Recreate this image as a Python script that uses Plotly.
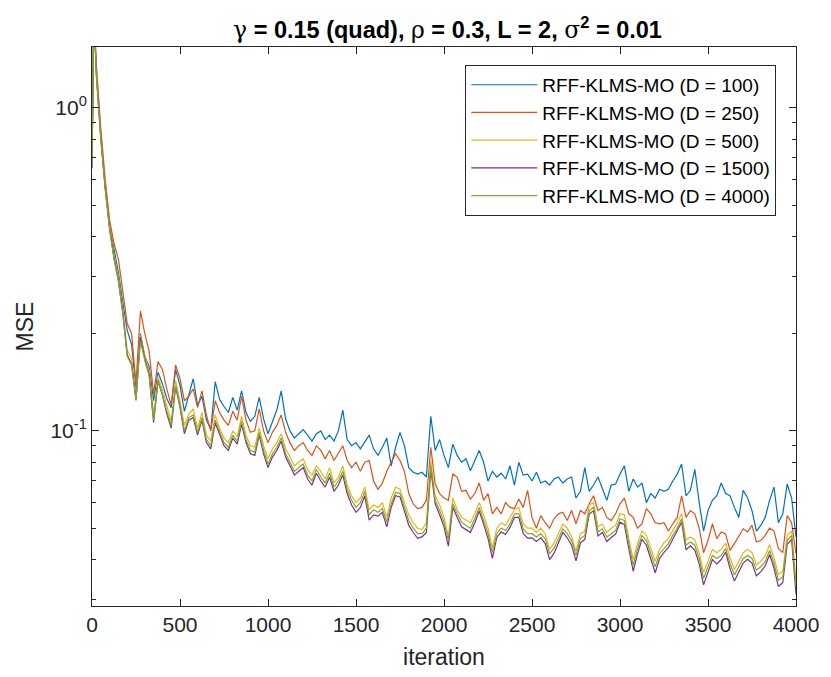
import plotly.graph_objects as go

iters = [0, 5, 10, 15] + list(range(25, 4001, 25))

mse_d100 = [0.66, 1.85, 2.0, 1.75,
    1.3, 0.83, 0.57, 0.43, 0.36, 0.31, 0.25, 0.205, 0.185, 0.135,
    0.2, 0.17, 0.158, 0.124, 0.152, 0.14, 0.126, 0.118, 0.155, 0.138,
    0.115, 0.13, 0.145, 0.12, 0.128, 0.108, 0.101, 0.142, 0.125, 0.119,
    0.114, 0.127, 0.116, 0.133, 0.114, 0.107, 0.111, 0.127, 0.109, 0.098,
    0.106, 0.116, 0.133, 0.109, 0.1, 0.095, 0.098, 0.101, 0.097, 0.093,
    0.098, 0.1, 0.094, 0.097, 0.093, 0.1, 0.116, 0.094, 0.09, 0.092,
    0.088, 0.092, 0.097, 0.088,
    0.084, 0.089, 0.095, 0.078, 0.089, 0.099, 0.090, 0.077, 0.0745, 0.0735,
    0.0745, 0.072, 0.111, 0.087, 0.094, 0.084, 0.077, 0.091, 0.084, 0.080,
    0.082, 0.0753, 0.081, 0.087, 0.080, 0.070, 0.075, 0.072, 0.074, 0.071,
    0.078, 0.068, 0.080, 0.073, 0.0735, 0.070, 0.0745, 0.069, 0.070, 0.068,
    0.071, 0.072, 0.069, 0.071, 0.072, 0.062, 0.065, 0.077, 0.065, 0.068,
    0.072, 0.066, 0.061, 0.068, 0.0685, 0.0735, 0.078, 0.065, 0.071, 0.067,
    0.069, 0.060, 0.064, 0.062, 0.066, 0.065, 0.066, 0.070, 0.0735, 0.079,
    0.063, 0.0655, 0.076, 0.060, 0.049, 0.0567, 0.061, 0.063, 0.069, 0.064,
    0.063, 0.058, 0.054, 0.0655, 0.062, 0.0567, 0.049, 0.051, 0.054, 0.061,
    0.067, 0.052, 0.0554, 0.0685, 0.062, 0.047]

mse_d250 = [0.66, 1.9, 2.0, 1.8,
    1.35, 0.86, 0.6, 0.45, 0.38, 0.34, 0.27, 0.215, 0.2, 0.14,
    0.235, 0.2, 0.176, 0.13, 0.164, 0.155, 0.135, 0.12, 0.16, 0.145,
    0.124, 0.128, 0.135, 0.118, 0.133, 0.112, 0.1, 0.124, 0.114, 0.108,
    0.104, 0.115, 0.108, 0.128, 0.108, 0.099, 0.1, 0.117, 0.1, 0.092,
    0.099, 0.104, 0.112, 0.099, 0.092, 0.087, 0.09, 0.092, 0.087, 0.084,
    0.09, 0.087, 0.082, 0.087, 0.081, 0.085, 0.09, 0.081, 0.077, 0.08,
    0.075, 0.08, 0.081, 0.07,
    0.066, 0.069, 0.075, 0.080, 0.085, 0.081, 0.075, 0.064, 0.0595, 0.0575,
    0.058, 0.061, 0.089, 0.0685, 0.064, 0.062, 0.061, 0.0735, 0.072, 0.065,
    0.0655, 0.0615, 0.064, 0.069, 0.061, 0.064, 0.0554, 0.058, 0.0554, 0.060,
    0.058, 0.0575, 0.0615, 0.058, 0.0655, 0.054, 0.050, 0.0547, 0.052, 0.050,
    0.0535, 0.0554, 0.056, 0.0528, 0.0567, 0.0516, 0.0567, 0.0554, 0.0595, 0.063,
    0.0567, 0.058, 0.054, 0.0528, 0.0554, 0.0595, 0.062, 0.0554, 0.054, 0.050,
    0.0516, 0.0575, 0.0554, 0.052, 0.0516, 0.052, 0.049, 0.0516, 0.054, 0.063,
    0.054, 0.0567, 0.0554, 0.050, 0.042, 0.0458, 0.0516, 0.0464, 0.0487, 0.048,
    0.0427, 0.0448, 0.0475, 0.0498, 0.0487, 0.051, 0.0453, 0.0458, 0.0475, 0.050,
    0.049, 0.0433, 0.042, 0.0547, 0.052, 0.0417]

mse_d500 = [0.66, 1.83, 1.97, 1.72,
    1.27, 0.81, 0.57, 0.43, 0.35, 0.3, 0.238, 0.178, 0.167, 0.128,
    0.198, 0.17, 0.153, 0.112, 0.147, 0.134, 0.12, 0.107, 0.143, 0.124,
    0.104, 0.113, 0.117, 0.102, 0.114, 0.097, 0.093, 0.112, 0.102, 0.095,
    0.092, 0.1, 0.096, 0.111, 0.097, 0.09, 0.089, 0.102, 0.09, 0.082,
    0.088, 0.092, 0.098, 0.088, 0.083, 0.078, 0.08, 0.082, 0.076, 0.073,
    0.078, 0.075, 0.071, 0.077, 0.069, 0.072, 0.078, 0.068, 0.063, 0.06,
    0.062, 0.067, 0.057, 0.059,
    0.058, 0.060, 0.054, 0.062, 0.067, 0.066, 0.060, 0.055, 0.052, 0.050,
    0.0495, 0.052, 0.081, 0.063, 0.059, 0.054, 0.047, 0.062, 0.057, 0.054,
    0.053, 0.052, 0.0555, 0.060, 0.055, 0.050, 0.0435, 0.050, 0.052, 0.051,
    0.054, 0.057, 0.058, 0.0515, 0.050, 0.050, 0.0485, 0.050, 0.048, 0.043,
    0.045, 0.048, 0.0515, 0.050, 0.047, 0.0425, 0.048, 0.049, 0.059, 0.060,
    0.0505, 0.0515, 0.0485, 0.050, 0.051, 0.0555, 0.055, 0.0465, 0.040, 0.045,
    0.049, 0.0475, 0.0435, 0.0395, 0.043, 0.045, 0.0465, 0.049, 0.052, 0.0555,
    0.046, 0.047, 0.046, 0.042, 0.0365, 0.0395, 0.043, 0.042, 0.043, 0.045,
    0.0405, 0.0372, 0.0395, 0.042, 0.043, 0.042, 0.0385, 0.0395, 0.041, 0.0445,
    0.0405, 0.036, 0.0368, 0.0475, 0.049, 0.0345]

mse_d1500 = [0.65, 1.81, 1.96, 1.71,
    1.26, 0.805, 0.565, 0.423, 0.343, 0.292, 0.232, 0.172, 0.161, 0.125,
    0.195, 0.167, 0.149, 0.106, 0.143, 0.129, 0.113, 0.102, 0.137, 0.118,
    0.098, 0.108, 0.11, 0.097, 0.108, 0.092, 0.088, 0.106, 0.097, 0.09,
    0.087, 0.095, 0.091, 0.105, 0.092, 0.085, 0.084, 0.097, 0.085, 0.077,
    0.083, 0.087, 0.093, 0.083, 0.078, 0.073, 0.075, 0.077, 0.071, 0.068,
    0.074, 0.07, 0.067, 0.072, 0.065, 0.068, 0.073, 0.064, 0.059, 0.056,
    0.058, 0.063, 0.053, 0.055,
    0.0545, 0.056, 0.0505, 0.058, 0.063, 0.0625, 0.0565, 0.051, 0.0485, 0.0465,
    0.047, 0.0485, 0.076, 0.0595, 0.055, 0.0505, 0.044, 0.058, 0.054, 0.0505,
    0.0495, 0.0485, 0.052, 0.0565, 0.0515, 0.0465, 0.0403, 0.0468, 0.0487, 0.0478,
    0.0503, 0.054, 0.054, 0.0482, 0.0466, 0.0467, 0.0455, 0.0467, 0.0448, 0.0400,
    0.0418, 0.0450, 0.0485, 0.0467, 0.0443, 0.0396, 0.0450, 0.0462, 0.0553, 0.0566,
    0.0473, 0.0485, 0.0455, 0.0468, 0.0479, 0.0522, 0.0513, 0.0432, 0.0368, 0.0418,
    0.0462, 0.0443, 0.0404, 0.0364, 0.0403, 0.0421, 0.0435, 0.0463, 0.0487, 0.0522,
    0.0429, 0.0441, 0.0428, 0.0388, 0.0334, 0.0365, 0.0400, 0.0388, 0.0400, 0.0422,
    0.0375, 0.0343, 0.0365, 0.0390, 0.0401, 0.0390, 0.0356, 0.0367, 0.0382, 0.0415,
    0.0376, 0.0330, 0.0340, 0.0446, 0.0462, 0.0312]

mse_d4000 = [0.65, 1.8, 1.95, 1.7,
    1.25, 0.8, 0.56, 0.42, 0.34, 0.29, 0.23, 0.17, 0.16, 0.124,
    0.19, 0.165, 0.148, 0.108, 0.142, 0.13, 0.115, 0.104, 0.138, 0.12,
    0.1, 0.11, 0.112, 0.099, 0.11, 0.094, 0.09, 0.108, 0.099, 0.092,
    0.089, 0.097, 0.093, 0.107, 0.094, 0.087, 0.086, 0.099, 0.087, 0.079,
    0.085, 0.089, 0.095, 0.085, 0.08, 0.075, 0.077, 0.079, 0.073, 0.07,
    0.076, 0.072, 0.069, 0.074, 0.067, 0.07, 0.075, 0.066, 0.061, 0.058,
    0.06, 0.065, 0.055, 0.057,
    0.056, 0.0575, 0.0522, 0.0595, 0.0646, 0.064, 0.058, 0.0528, 0.050, 0.0481,
    0.0481, 0.050, 0.078, 0.061, 0.0567, 0.0522, 0.0458, 0.0595, 0.0554, 0.0522,
    0.051, 0.050, 0.0535, 0.058, 0.0528, 0.0481, 0.042, 0.0481, 0.050, 0.0492,
    0.0516, 0.0554, 0.0554, 0.0498, 0.0481, 0.0481, 0.047, 0.0481, 0.0464, 0.0417,
    0.0433, 0.0464, 0.0498, 0.0481, 0.0458, 0.0412, 0.0464, 0.0475, 0.0567, 0.058,
    0.0487, 0.0498, 0.047, 0.0481, 0.0492, 0.0535, 0.0528, 0.0448, 0.0384, 0.0433,
    0.0475, 0.0458, 0.042, 0.038, 0.0417, 0.0433, 0.0448, 0.0475, 0.050, 0.0535,
    0.0443, 0.0453, 0.0443, 0.0403, 0.035, 0.038, 0.0412, 0.0403, 0.0412, 0.0433,
    0.0389, 0.0358, 0.038, 0.0403, 0.0412, 0.0403, 0.0371, 0.038, 0.0394, 0.0427,
    0.0389, 0.0345, 0.0354, 0.0458, 0.0475, 0.033]

series_names = ["RFF-KLMS-MO (D = 100)", "RFF-KLMS-MO (D = 250)", "RFF-KLMS-MO (D = 500)",
                "RFF-KLMS-MO (D = 1500)", "RFF-KLMS-MO (D = 4000)"]
series_values = [mse_d100, mse_d250, mse_d500, mse_d1500, mse_d4000]
series_colors = ["#0072BD", "#D95319", "#EDB120", "#7E2F8E", "#77AC30"]

for v in series_values:
    assert len(v) == len(iters), (len(v), len(iters))

x_ticks = list(range(0, 4001, 500))
y_major = [0.1, 1]
y_major_text = ["10<sup>-1</sup>", "10<sup>0</sup>"]
y_minor = [0.03, 0.04, 0.05, 0.06, 0.07, 0.08, 0.09, 0.2, 0.3, 0.4, 0.5, 0.6, 0.7, 0.8, 0.9]

AX = "#262626"
FONT = "Liberation Sans, Arial, Helvetica, sans-serif"
GREEK = "<span style='font-family:DejaVu Serif;font-weight:normal'>{}</span>"

fig = go.Figure()
for name, vals, col in zip(series_names, series_values, series_colors):
    fig.add_trace(go.Scatter(x=iters, y=vals, mode="lines", name=name,
                             line=dict(color=col, width=1.2)))

title_text = ("<b>" + GREEK.format("γ") + " = 0.15 (quad), " + GREEK.format("ρ")
              + " = 0.3, L = 2, " + GREEK.format("σ") + "<sup>2</sup> = 0.01</b>")

fig.update_layout(
    width=831, height=677,
    margin=dict(l=92, r=28, t=47, b=68),
    paper_bgcolor="white", plot_bgcolor="white",
    font=dict(family=FONT, size=21, color=AX),
    title=dict(text=title_text,
               x=447.5 / 831, xanchor="center", xref="container",
               y=1 - 30 / 677, yanchor="middle", yref="container",
               font=dict(family=FONT, size=23.5, color="black")),
    showlegend=True,
    legend=dict(x=(469 - 92) / 711, y=(609 - 65) / 562, xanchor="left", yanchor="top",
                bgcolor="white", bordercolor=AX, borderwidth=1,
                font=dict(family=FONT, size=19, color="black"),
                itemwidth=66, tracegroupgap=0),
    xaxis=dict(range=[0, 4000], tickvals=x_ticks, ticks="inside", ticklen=7,
               tickcolor=AX, showline=True, linecolor=AX, linewidth=1, mirror="ticks",
               showgrid=False, zeroline=False,
               tickfont=dict(size=21, color=AX),
               title=dict(text="iteration", font=dict(size=23, color=AX), standoff=13)),
    yaxis=dict(type="log", range=[-1.5417, 0.1878], tickvals=y_major, ticktext=y_major_text,
               ticks="inside", ticklen=7, tickcolor=AX, showline=True, linecolor=AX,
               linewidth=1, mirror="ticks", showgrid=False, zeroline=False,
               tickfont=dict(size=21, color=AX),
               minor=dict(tickvals=y_minor, ticks="inside", ticklen=4, tickcolor=AX, showgrid=False),
               title=dict(text="MSE", font=dict(size=23, color=AX), standoff=10)),
)

fig.write_html("out.html")
